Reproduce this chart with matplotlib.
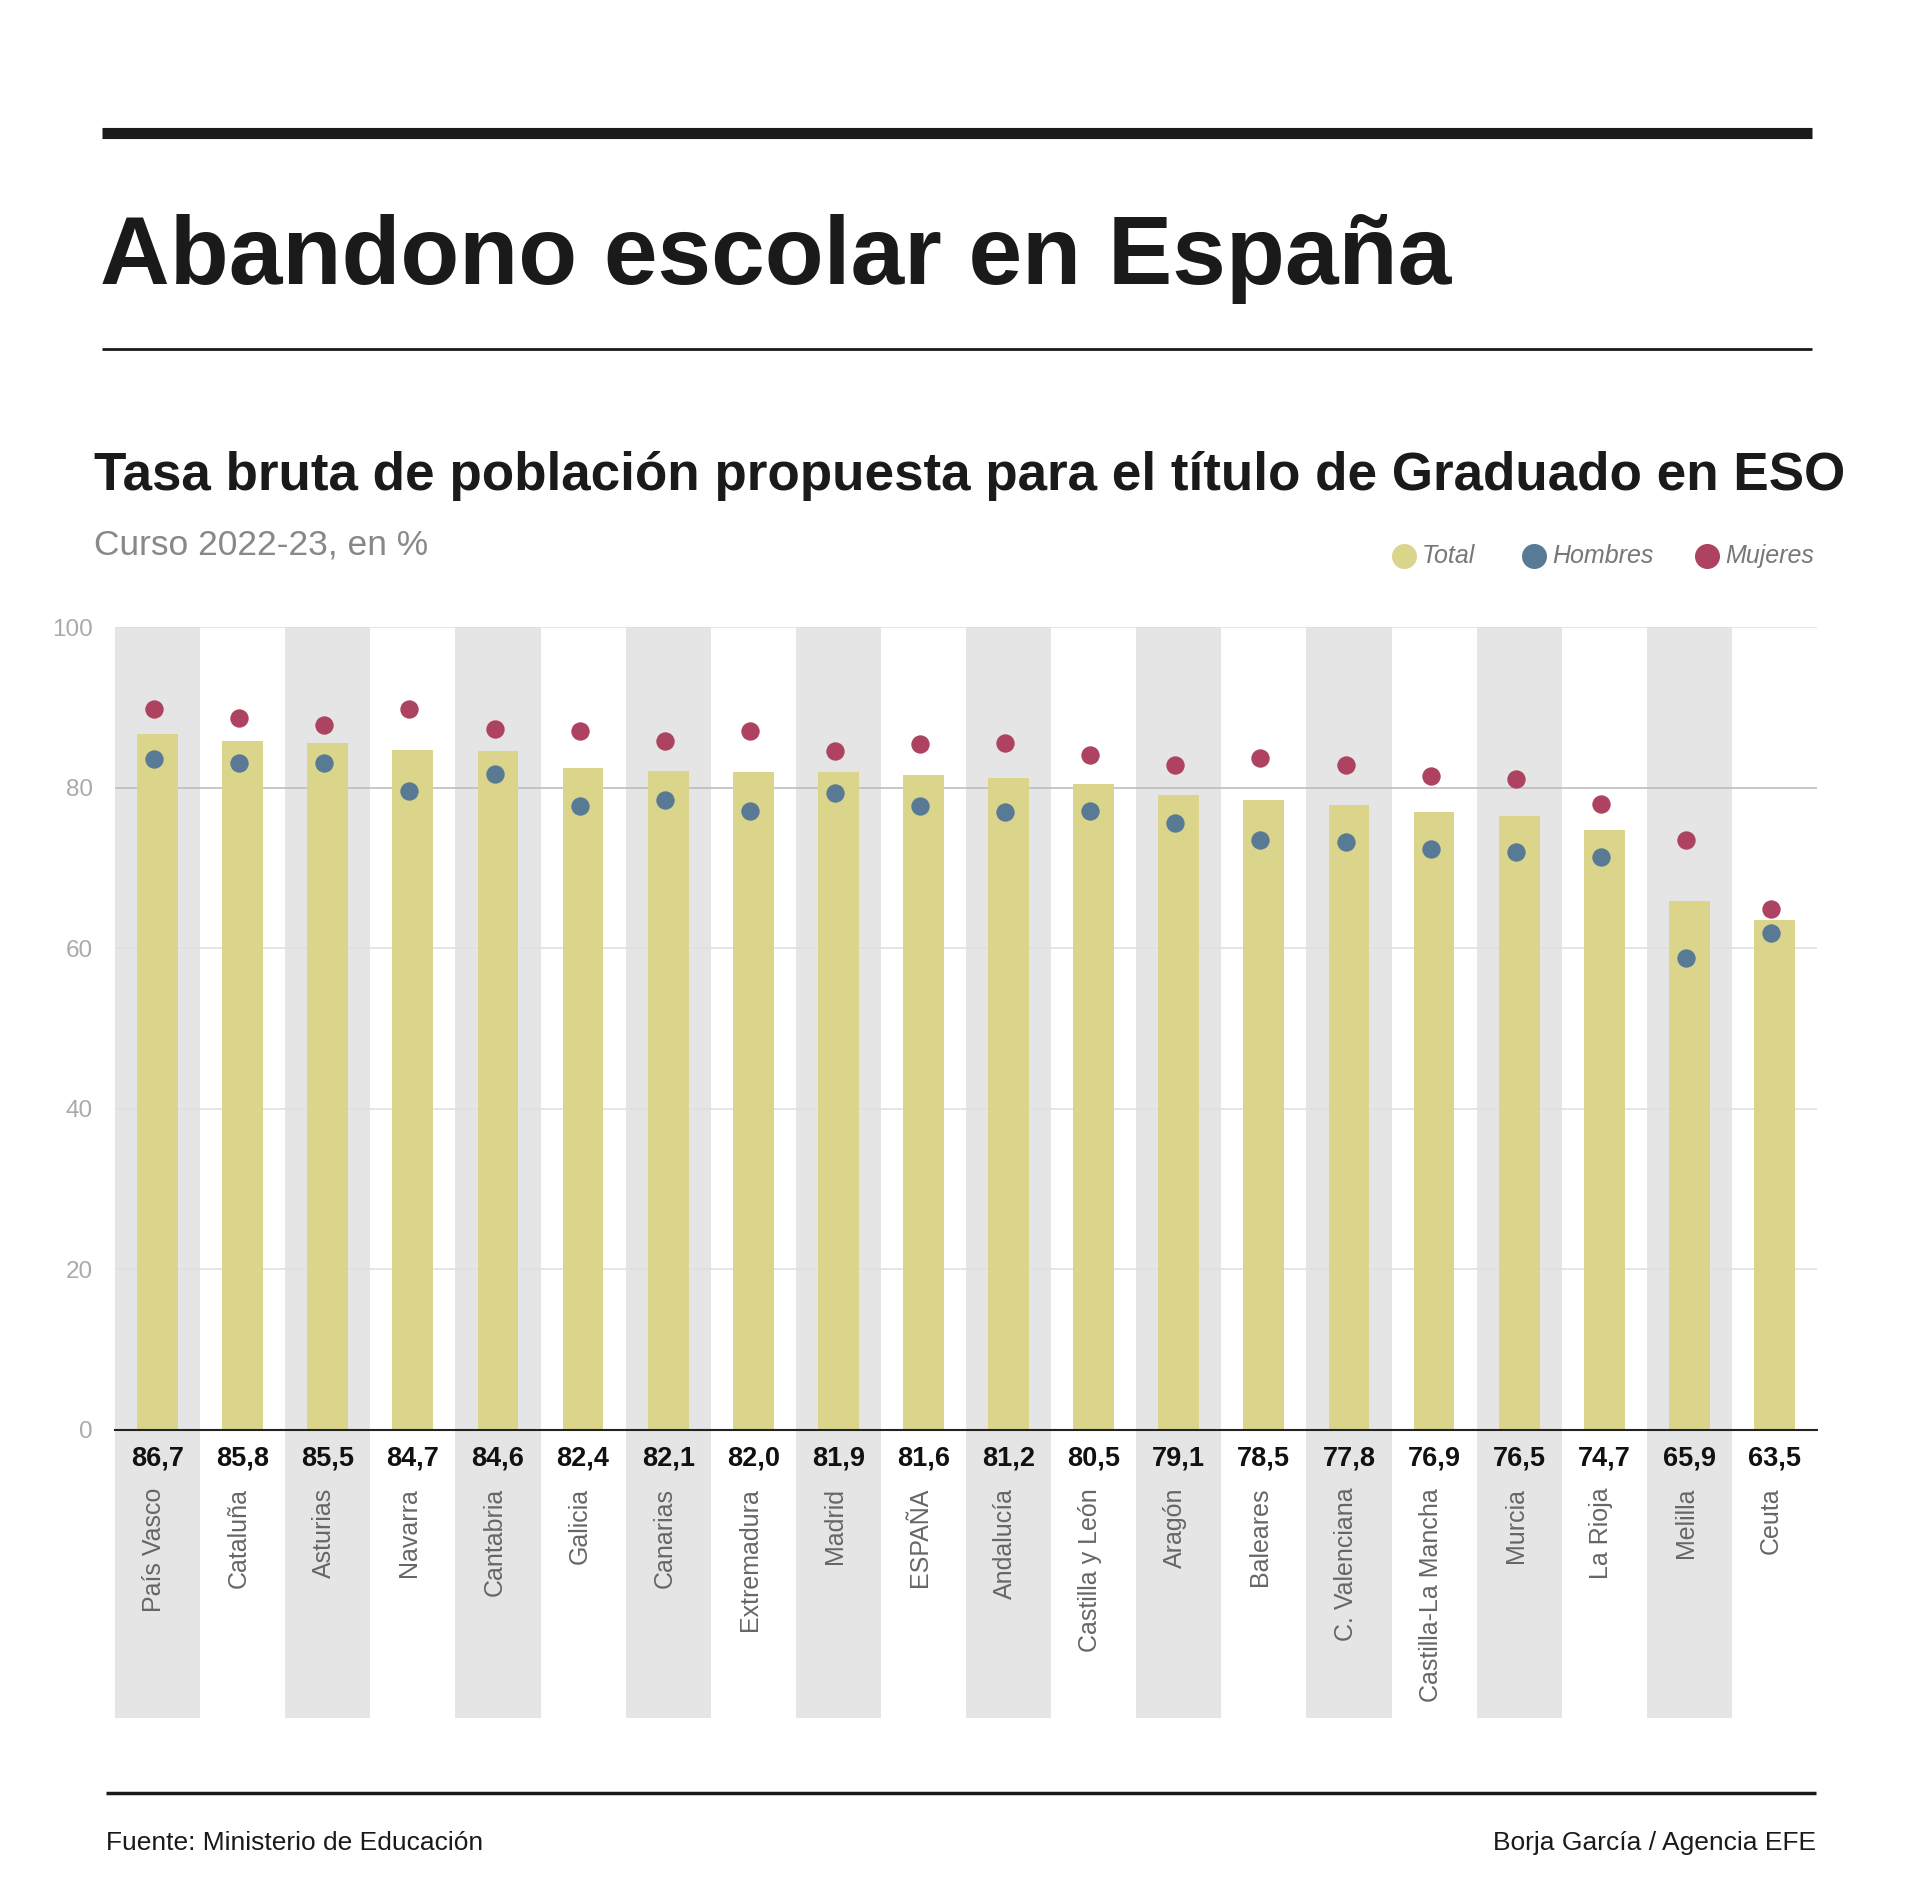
import numpy as np
import matplotlib.pyplot as plt

regiones = ["País Vasco", "Cataluña", "Asturias", "Navarra", "Cantabria", "Galicia",
            "Canarias", "Extremadura", "Madrid", "ESPAÑA", "Andalucía", "Castilla y León",
            "Aragón", "Baleares", "C. Valenciana", "Castilla-La Mancha", "Murcia",
            "La Rioja", "Melilla", "Ceuta"]
total = [86.7, 85.8, 85.5, 84.7, 84.6, 82.4, 82.1, 82.0, 81.9, 81.6, 81.2, 80.5,
         79.1, 78.5, 77.8, 76.9, 76.5, 74.7, 65.9, 63.5]
hombres = [83.5, 83.1, 83.1, 79.6, 81.7, 77.7, 78.4, 77.1, 79.3, 77.7, 77.0, 77.1,
           75.6, 73.5, 73.2, 72.4, 72.0, 71.3, 58.8, 61.9]
mujeres = [89.8, 88.7, 87.8, 89.8, 87.3, 87.0, 85.8, 87.0, 84.5, 85.4, 85.5, 84.0,
           82.8, 83.7, 82.8, 81.4, 81.1, 78.0, 73.5, 64.9]
yticks = [0, 20, 40, 60, 80, 100]

C_TOTAL = "#dad58b"
C_HOM = "#587a95"
C_MUJ = "#ae4261"
C_BAND = "#e5e5e5"

plt.rcParams["font.family"] = ["Liberation Sans", "DejaVu Sans"]

W, H = 1920, 1897
fig = plt.figure(figsize=(W / 100, H / 100), dpi=100)


def fx(px):
    return px / W


def fy(py):
    return 1 - py / H


def hline(x0, x1, y, lw):
    fig.add_artist(plt.Line2D([fx(x0), fx(x1)], [fy(y), fy(y)], color="#1a1a1a",
                              lw=lw, solid_capstyle="butt"))


# cabecera
hline(102, 1812, 133, 8)
fig.text(fx(100), fy(284), "Abandono escolar en España", fontsize=69.5, fontweight="bold",
         color="#1a1a1a", va="baseline")
hline(102, 1812, 349, 2)
fig.text(fx(94), fy(490), "Tasa bruta de población propuesta para el título de Graduado en ESO",
         fontsize=38.2, fontweight="bold", color="#1a1a1a", va="baseline")
fig.text(fx(94), fy(555), "Curso 2022-23, en %", fontsize=25.5, color="#888888", va="baseline")

# leyenda
for cx, col, lab in [(1404, C_TOTAL, "Total"), (1534, C_HOM, "Hombres"), (1707, C_MUJ, "Mujeres")]:
    fig.add_artist(plt.Line2D([fx(cx)], [fy(556)], marker="o", markersize=17,
                              color=col, lw=0))
    fig.text(fx(cx + 18), fy(556), lab, fontsize=18, style="italic", color="#777777",
             va="center")

# grafico
ax = fig.add_axes([fx(115), fy(1430), fx(1817) - fx(115), (1430 - 627) / H])
x = np.arange(len(regiones))
ax.set_xlim(-0.5, len(regiones) - 0.5)
ax.set_ylim(0, 100)

band_bottom = -(1718 - 1430) / (1430 - 627) * 100
for i in x[::2]:
    ax.bar(i, 100 - band_bottom, bottom=band_bottom, width=1.0, color=C_BAND,
           zorder=0, clip_on=False, lw=0)

for t in yticks[1:]:
    ax.axhline(t, color="#bdbdbd" if t == 80 else "#e0e0e0", lw=1.2, zorder=1)

ax.bar(x, total, width=0.48, color=C_TOTAL, zorder=2, lw=0)
ax.scatter(x - 0.04, hombres, s=175, color=C_HOM, zorder=3, lw=0)
ax.scatter(x - 0.04, mujeres, s=175, color=C_MUJ, zorder=3, lw=0)

for s in ["top", "right", "left"]:
    ax.spines[s].set_visible(False)
ax.spines["bottom"].set_color("#222222")
ax.spines["bottom"].set_linewidth(1.5)
ax.spines["bottom"].set_zorder(4)

ax.set_yticks(yticks)
ax.set_yticklabels([str(t) for t in yticks], fontsize=17.5, color="#aaaaaa")
ax.tick_params(axis="y", length=0, pad=16)
ax.set_xticks([])

for i, v in enumerate(total):
    ax.text(i, -3.5, f"{v:.1f}".replace(".", ","), ha="center", va="center",
            fontsize=19.5, fontweight="bold", color="#111111")
    ax.text(i - 0.04, -7.2, regiones[i], ha="center", va="top", rotation=90,
            fontsize=18, color="#666666")

# pie
hline(106, 1816, 1793, 2.5)
fig.text(fx(106), fy(1843), "Fuente: Ministerio de Educación", fontsize=19, color="#1a1a1a",
         va="center")
fig.text(fx(1816), fy(1843), "Borja García / Agencia EFE", fontsize=19, color="#1a1a1a",
         va="center", ha="right")

fig.savefig("out.png", dpi=100, facecolor="white")
